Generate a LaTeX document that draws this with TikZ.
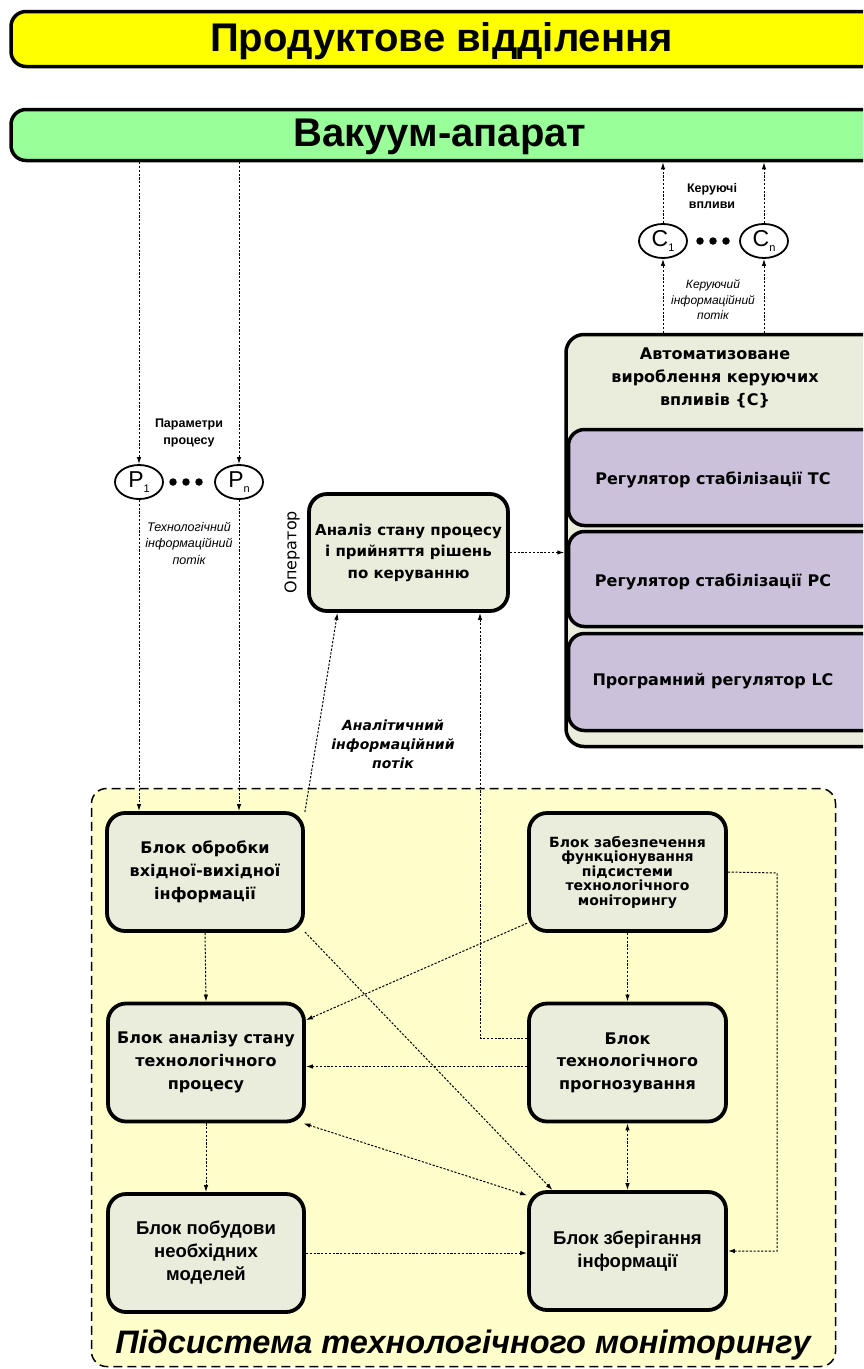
\documentclass[tikz,border=0pt]{standalone}
\usepackage{fontspec}
\setmainfont{Liberation Sans}
\newfontfamily\dvs{DejaVu Sans}
\newfontfamily\lib{Liberation Sans}
\usetikzlibrary{arrows.meta,shapes.geometric,calc}
\definecolor{barY}{HTML}{FFFF00}
\definecolor{barG}{HTML}{99FF99}
\definecolor{boxF}{HTML}{EAECDC}
\definecolor{purF}{HTML}{CCC1DA}
\definecolor{regF}{HTML}{FFFFCC}
\newcommand\mysub[2]{#1\raisebox{-5pt}{\fontsize{11}{11}\selectfont #2}}
\begin{document}
\begin{tikzpicture}[x=1pt,y=-1pt,
  bar/.style={draw, line width=3.5pt, rounded corners=15pt, minimum width=892pt, inner sep=0pt},
  btitle/.style={anchor=base, inner sep=0pt, font=\lib\bfseries\fontsize{40}{40}\selectfont},
  blk/.style={draw, line width=3.8pt, rounded corners=18pt, fill=boxF, minimum width=196pt, minimum height=118pt, align=center, inner sep=0pt, font=\dvs\bfseries\fontsize{16}{23}\selectfont},
  purp/.style={draw, line width=3.5pt, rounded corners=16pt, fill=purF, minimum width=335pt, inner sep=0pt},
  ptext/.style={inner sep=0pt, font=\dvs\bfseries\fontsize{16}{18}\selectfont},
  circ/.style={ellipse, draw, line width=1.8pt, fill=white, minimum width=48pt, minimum height=34pt, inner sep=0pt, font=\lib\fontsize{23}{23}\selectfont},
  conn/.style={line width=1pt, dash pattern=on 2.2pt off 1.6pt, -{Latex[length=7pt,width=4.5pt]}},
  bconn/.style={conn, {Latex[length=7pt,width=4.5pt]}-{Latex[length=7pt,width=4.5pt]}},
  lbl/.style={align=center, inner sep=0pt},
  dot/.style={circle, fill=black, inner sep=0pt, minimum size=7.5pt}
]
\clip (0,0) rectangle (863,1369);
\fill[white] (0,0) rectangle (863,1369);

% bars
\node[bar, fill=barY, minimum height=55pt] (prod) at (457,39) {};
\node[btitle] (prodt) at (441.5,51) {Продуктове відділення};
\node[bar, fill=barG, minimum height=51pt] (vac) at (457,135) {};
\node[btitle] (vact) at (440,146) {Вакуум-апарат};

% region
\node[draw, line width=1.5pt, dash pattern=on 9pt off 5pt, rounded corners=15pt, fill=regF, minimum width=744pt, minimum height=578pt, inner sep=0pt] (reg) at (463.5,1077.5) {};
\node[anchor=base, inner sep=0pt, font=\lib\bfseries\itshape\fontsize{32.5}{33}\selectfont] (regt) at (463,1353) {Підсистема технологічного моніторингу};

% parameter circles
\node[circ] (P1) at (139,482) {\mysub{P}{1}};
\node[circ] (Pn) at (239,482) {\mysub{P}{n}};
\node[dot] (pd1) at (173,482) {};
\node[dot] (pd2) at (186,482) {};
\node[dot] (pd3) at (199,482) {};
\node[lbl, font=\lib\bfseries\fontsize{12.5}{17}\selectfont] (parl) at (189,433) {Параметри\\процесу};
\node[lbl, font=\lib\itshape\fontsize{12.5}{16.5}\selectfont] (techl) at (189,543) {Технологічний\\інформаційний\\потік};

% control circles
\node[circ] (C1) at (663,241) {\mysub{C}{1}};
\node[circ] (Cn) at (764,241) {\mysub{C}{n}};
\node[dot] (cd1) at (700,241) {};
\node[dot] (cd2) at (713,241) {};
\node[dot] (cd3) at (726,241) {};
\node[lbl, font=\lib\bfseries\fontsize{12.5}{15.5}\selectfont] (kvl) at (712,196) {Керуючі\\впливи};
\node[lbl, font=\lib\itshape\fontsize{12}{15.5}\selectfont] (kil) at (713,300) {Керуючий\\інформаційний\\потік};

% automated box
\node[draw, line width=3.5pt, rounded corners=18pt, fill=boxF, minimum width=338pt, minimum height=412pt, inner sep=0pt] (auto) at (735,540.5) {};
\node[lbl, font=\dvs\bfseries\fontsize{16}{23}\selectfont] (autot) at (715,378) {Автоматизоване\\вироблення керуючих\\впливів \{C\}};
\node[purp, minimum height=96pt] (R1) at (736,477.5) {};
\node[ptext] (R1t) at (713,480) {Регулятор стабілізації TC};
\node[purp, minimum height=95pt] (R2) at (736,579) {};
\node[ptext] (R2t) at (713,582) {Регулятор стабілізації PC};
\node[purp, minimum height=97pt] (R3) at (736,682) {};
\node[ptext] (R3t) at (713,681) {Програмний регулятор LC};

% operator box
\node[blk, minimum width=199pt, minimum height=117pt, font=\dvs\bfseries\fontsize{15}{21.5}\selectfont] (op) at (408.5,552.5) {Аналіз стану процесу\\і прийняття рішень\\по керуванню};
\node[lbl, rotate=90, font=\dvs\fontsize{16}{16}\selectfont] (opl) at (292,552) {Оператор};
\node[lbl, font=\dvs\bfseries\itshape\fontsize{14}{19}\selectfont] (anl) at (393,744) {Аналітичний\\інформаційний\\потік};

% blocks
\node[blk] (B1) at (205,872) {Блок обробки\\вхідної-вихідної\\інформації};
\node[blk] (B2) at (206,1062.5) {Блок аналізу стану\\технологічного\\процесу};
\node[blk, font=\lib\bfseries\fontsize{18.5}{23}\selectfont] (B3) at (206,1253) {Блок побудови\\необхідних\\моделей};
\node[blk, minimum width=197pt, font=\dvs\bfseries\fontsize{14}{14.5}\selectfont] (B4) at (627.5,872) {Блок забезпечення\\функціонування\\підсистеми\\технологічного\\моніторингу};
\node[blk, minimum width=197pt, font=\dvs\bfseries\fontsize{16}{22.5}\selectfont] (B5) at (627.5,1062.5) {Блок\\технологічного\\прогнозування};
\node[blk, minimum width=197pt, font=\lib\bfseries\fontsize{18.5}{23}\selectfont] (B6) at (627.5,1251) {Блок зберігання\\інформації};

% connectors
\draw[conn] (P1 |- vac.south) -- (P1);
\draw[conn] (Pn |- vac.south) -- (Pn);
\draw[conn] (P1) -- (P1 |- B1.north);
\draw[conn] (Pn) -- (Pn |- B1.north);
\draw[conn] (C1 |- auto.north) -- (C1);
\draw[conn] (Cn |- auto.north) -- (Cn);
\draw[conn] (C1) -- (C1 |- vac.south);
\draw[conn] (Cn) -- (Cn |- vac.south);
\draw[conn] (op.east) -- (op.east -| auto.west);

\draw[conn] (B1.south) -- (B2.north);
\draw[conn] (B2.south) -- (B3.north);
\draw[conn] (B3.east) -- (B3.east -| B6.west);
\draw[conn] (B4.south) -- (B5.north);
\draw[bconn] (B5.south) -- (B6.north);
\coordinate (rr) at (777,873);
\draw[conn] (B4.east) -- (rr) |- (B6.east);
\draw[conn] (B4.207) -- (B2.23);
\draw[conn] ([yshift=-4pt]B5.west) -- ([yshift=-4pt]B5.west -| B2.east);
\coordinate (kk) at (480,1038);
\draw[conn] (kk -| B5.west) -- (kk) -- (kk |- op.south);
\draw[conn] (B1.31) -- ([xshift=-71pt]op.south);
\draw[conn] (B1.-31) -- ([xshift=-75pt]B6.north);
\draw[bconn] (B2.-32) -- (B6.151);
\end{tikzpicture}
\end{document}
